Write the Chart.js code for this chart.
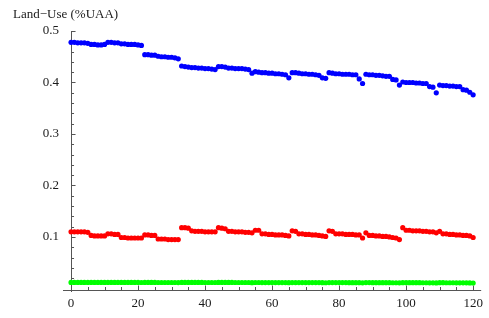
<!DOCTYPE html>
<html>
<head>
<meta charset="utf-8">
<script src="https://cdn.jsdelivr.net/npm/chart.js@4"></script>
<style>
  html, body { margin: 0; padding: 0; background: #fff; }
  #wrap { width: 489px; height: 318px; }
</style>
</head>
<body>
<div id="wrap"><canvas id="plot"></canvas></div>
<script>
const yTitle = 'Land\u2212Use (%UAA)';
const xTicks = [0, 20, 40, 60, 80, 100, 120];
const yTicks = [0.1, 0.2, 0.3, 0.4, 0.5];
const yTickLabels = ['0.1', '0.2', '0.3', '0.4', '0.5'];

// one value per period 0..120
const blueSeries = [
  0.478, 0.478, 0.477, 0.477, 0.477, 0.476, 0.474, 0.474, 0.473, 0.473, 0.474,
  0.478, 0.478, 0.477, 0.477, 0.475, 0.475, 0.474, 0.474, 0.474, 0.473, 0.472,
  0.454, 0.454, 0.453, 0.453, 0.451, 0.450, 0.450, 0.449, 0.449, 0.448, 0.446,
  0.432, 0.431, 0.430, 0.429, 0.429, 0.428, 0.428, 0.427, 0.427, 0.426, 0.425,
  0.431, 0.431, 0.430, 0.428, 0.428, 0.427, 0.427, 0.427, 0.426, 0.425, 0.418,
  0.421, 0.420, 0.419, 0.419, 0.418, 0.418, 0.417, 0.417, 0.416, 0.415, 0.409,
  0.419, 0.419, 0.418, 0.417, 0.417, 0.416, 0.416, 0.415, 0.414, 0.409, 0.408,
  0.419, 0.418, 0.417, 0.417, 0.416, 0.416, 0.416, 0.415, 0.415, 0.407, 0.398,
  0.416, 0.415, 0.415, 0.414, 0.414, 0.413, 0.412, 0.412, 0.406, 0.405, 0.395,
  0.401, 0.400, 0.400, 0.400, 0.399, 0.399, 0.398, 0.398, 0.392, 0.391, 0.380,
  0.395, 0.394, 0.394, 0.393, 0.393, 0.392, 0.392, 0.386, 0.385, 0.381, 0.376
];

const redSeries = [
  0.110, 0.110, 0.110, 0.110, 0.110, 0.109, 0.103, 0.102, 0.102, 0.102, 0.102,
  0.106, 0.106, 0.105, 0.105, 0.099, 0.099, 0.098, 0.098, 0.098, 0.098, 0.098,
  0.104, 0.104, 0.103, 0.103, 0.096, 0.096, 0.096, 0.095, 0.095, 0.095, 0.095,
  0.118, 0.118, 0.117, 0.112, 0.111, 0.111, 0.111, 0.110, 0.110, 0.110, 0.110,
  0.118, 0.117, 0.116, 0.111, 0.111, 0.110, 0.110, 0.110, 0.109, 0.109, 0.108,
  0.113, 0.113, 0.106, 0.106, 0.105, 0.105, 0.104, 0.104, 0.104, 0.103, 0.102,
  0.112, 0.111, 0.106, 0.106, 0.105, 0.105, 0.104, 0.104, 0.103, 0.102, 0.101,
  0.112, 0.111, 0.106, 0.106, 0.106, 0.105, 0.105, 0.105, 0.104, 0.104, 0.098,
  0.108, 0.103, 0.103, 0.102, 0.102, 0.101, 0.101, 0.100, 0.099, 0.098, 0.095,
  0.118, 0.113, 0.113, 0.112, 0.112, 0.112, 0.111, 0.111, 0.110, 0.110, 0.108,
  0.111, 0.106, 0.106, 0.105, 0.105, 0.104, 0.104, 0.103, 0.103, 0.102, 0.099
];

const greenSeries = [
  0.0118, 0.0118, 0.0118, 0.0118, 0.0118, 0.0118, 0.0117, 0.0117, 0.0117, 0.0117, 0.0117,
  0.0118, 0.0118, 0.0118, 0.0118, 0.0117, 0.0117, 0.0117, 0.0117, 0.0117, 0.0117, 0.0116,
  0.0118, 0.0118, 0.0117, 0.0117, 0.0116, 0.0116, 0.0116, 0.0116, 0.0116, 0.0116, 0.0115,
  0.0118, 0.0118, 0.0117, 0.0117, 0.0117, 0.0117, 0.0117, 0.0116, 0.0116, 0.0116, 0.0116,
  0.0118, 0.0118, 0.0117, 0.0117, 0.0117, 0.0116, 0.0116, 0.0116, 0.0116, 0.0116, 0.0113,
  0.0116, 0.0116, 0.0115, 0.0115, 0.0115, 0.0115, 0.0115, 0.0115, 0.0114, 0.0114, 0.0112,
  0.0115, 0.0115, 0.0115, 0.0115, 0.0114, 0.0114, 0.0114, 0.0114, 0.0114, 0.0112, 0.0111,
  0.0115, 0.0115, 0.0114, 0.0114, 0.0114, 0.0114, 0.0113, 0.0113, 0.0113, 0.0112, 0.0110,
  0.0114, 0.0114, 0.0113, 0.0113, 0.0113, 0.0113, 0.0112, 0.0112, 0.0111, 0.0111, 0.0109,
  0.0113, 0.0113, 0.0112, 0.0112, 0.0112, 0.0112, 0.0111, 0.0111, 0.0110, 0.0110, 0.0108,
  0.0112, 0.0112, 0.0111, 0.0111, 0.0111, 0.0110, 0.0110, 0.0109, 0.0109, 0.0108, 0.0106
];

const serif = '"Liberation Serif", "DejaVu Serif", serif';
const axisColor = '#555';
const textColor = '#1a1a1a';

function toPoints(arr) {
  return arr.map((v, i) => ({ x: i, y: v }));
}

// Mathematica-style axes: crossing lines, ticks pointing inward
const axesPlugin = {
  id: 'mmaAxes',
  beforeDatasetsDraw(chart) {
    const { ctx, scales: { x, y }, chartArea } = chart;
    const x0 = x.getPixelForValue(0);
    const yb = chartArea.bottom;
    ctx.save();
    ctx.strokeStyle = axisColor;
    ctx.lineWidth = 1;
    ctx.beginPath();
    ctx.moveTo(chartArea.left, yb + 0.5);
    ctx.lineTo(chartArea.right, yb + 0.5);
    ctx.moveTo(Math.round(x0) + 0.5, y.getPixelForValue(0.5));
    ctx.lineTo(Math.round(x0) + 0.5, yb + 2);
    // x ticks
    for (let v = 0; v <= 120; v += 5) {
      const px = Math.round(x.getPixelForValue(v)) + 0.5;
      const len = v % 20 === 0 ? 4.5 : 3;
      ctx.moveTo(px, yb);
      ctx.lineTo(px, yb - len);
    }
    // y ticks
    for (let k = 1; k <= 25; k++) {
      const py = Math.round(y.getPixelForValue(k * 0.02)) + 0.5;
      const len = k % 5 === 0 ? 4.5 : 3;
      ctx.moveTo(x0, py);
      ctx.lineTo(x0 + len, py);
    }
    ctx.stroke();
    ctx.fillStyle = textColor;
    ctx.font = '13px ' + serif;
    ctx.textBaseline = 'middle';
    ctx.fillText(yTitle, 13, 14.5);
    ctx.restore();
  }
};

new Chart(document.getElementById('plot'), {
  type: 'scatter',
  data: {
    datasets: [
      { label: 'blue', data: toPoints(blueSeries), backgroundColor: '#0000ff' },
      { label: 'red', data: toPoints(redSeries), backgroundColor: '#ff0000' },
      { label: 'green', data: toPoints(greenSeries), backgroundColor: '#00ff00' }
    ]
  },
  options: {
    responsive: true,
    maintainAspectRatio: false,
    animation: false,
    layout: { padding: { top: 31, right: 6, left: 0, bottom: 0 } },
    elements: { point: { radius: 2.6, borderWidth: 0, hoverRadius: 2.6 } },
    plugins: { legend: { display: false }, tooltip: { enabled: false } },
    scales: {
      x: {
        type: 'linear',
        min: -2.4, max: 122.4,
        grid: { display: false, drawTicks: false },
        border: { display: false },
        afterBuildTicks: s => { s.ticks = xTicks.map(v => ({ value: v })); },
        afterFit: s => { s.height = 28; },
        ticks: {
          padding: 6, color: textColor,
          font: { family: serif, size: 13 },
          maxRotation: 0, autoSkip: false,
          callback: v => String(v)
        }
      },
      y: {
        type: 'linear',
        min: -0.003, max: 0.5,
        grid: { display: false, drawTicks: false },
        border: { display: false },
        afterBuildTicks: s => { s.ticks = yTicks.map(v => ({ value: v })); },
        afterFit: s => { s.width = 63; },
        ticks: {
          padding: 4, color: textColor,
          font: { family: serif, size: 13 },
          autoSkip: false,
          callback: (v, i) => yTickLabels[i]
        }
      }
    }
  },
  plugins: [axesPlugin]
});
</script>
</body>
</html>
